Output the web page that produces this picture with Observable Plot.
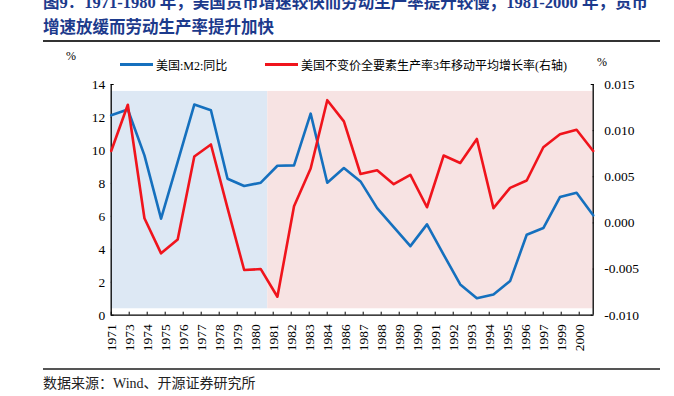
<!DOCTYPE html>
<html>
<head>
<meta charset="utf-8">
<script src="https://cdn.jsdelivr.net/npm/d3@7"></script>
<script src="https://cdn.jsdelivr.net/npm/@observablehq/plot@0.6"></script>
<style>
  html, body { margin: 0; padding: 0; background: #fff; }
  #wrap { position: relative; width: 674px; height: 396px; overflow: hidden;
          font-family: "Liberation Serif", "Noto Sans CJK SC", serif; color: #000; }
  #title { position: absolute; left: 43px; top: -9px; width: 630px; font-size: 16.5px; font-weight: bold;
           line-height: 24.5px; color: #1c3a8c; white-space: nowrap; }
  .hline { position: absolute; left: 43px; width: 617px; background: #333; }
  #chart { position: absolute; left: 0; top: 75px; }
  .lbl { position: absolute; font-size: 12px; white-space: nowrap; }
  .sw { position: absolute; height: 3px; }
  #caption { position: absolute; left: 43px; top: 372px; font-size: 14px; color: #222; }
</style>
</head>
<body>
<div id="wrap">
  <div id="title">图9：1971-1980 年，美国货币增速较快而劳动生产率提升较慢；1981-2000 年，货币<br>增速放缓而劳动生产率提升加快</div>
  <div class="hline" style="top:40px;height:1.5px;"></div>
  <div class="lbl" style="left:66px;top:49px;">%</div>
  <div class="lbl" style="left:597px;top:55px;">%</div>
  <div class="sw" style="left:120px;top:63px;width:33px;background:#1570be;"></div>
  <div class="lbl" style="left:156px;top:56px;">美国:M2:同比</div>
  <div class="sw" style="left:265px;top:63px;width:33px;background:#f0141c;"></div>
  <div class="lbl" style="left:301px;top:56px;">美国不变价全要素生产率3年移动平均增长率(右轴)</div>
  <div id="chart"></div>
  <div class="hline" style="top:368px;height:1.5px;background:#555;"></div>
  <div id="caption">数据来源：Wind、开源证券研究所</div>
</div>
<script>
// ---- data ----
const years = [1971, 1972, 1973, 1974, 1975, 1976, 1977, 1978, 1979, 1980,
               1981, 1982, 1983, 1984, 1985, 1986, 1987, 1988, 1989, 1990,
               1991, 1992, 1993, 1994, 1995, 1996, 1997, 1998, 1999, 2000];
const m2Yoy = [12.13, 12.48, 9.70, 5.86, 9.30, 12.78, 12.44, 8.28, 7.84, 8.04,
               9.07, 9.09, 12.23, 8.04, 8.93, 8.12, 6.50, 5.35, 4.19, 5.51,
               3.67, 1.87, 1.03, 1.26, 2.07, 4.88, 5.29, 7.17, 7.43, 6.06];
const tfpGrowth = [0.0078, 0.0128, 0.0005, -0.0033, -0.0018, 0.0072, 0.0085, 0.0016, -0.0051, -0.0050,
                   -0.0080, 0.0018, 0.0059, 0.0133, 0.0110, 0.0053, 0.0057, 0.0042, 0.0052, 0.0017,
                   0.0073, 0.0065, 0.0091, 0.0016, 0.0038, 0.0046, 0.0082, 0.0096, 0.0101, 0.0078];
const xTickLabels = ["1971","1973","1974","1975","1976","1977","1978","1979","1980","1981",
                     "1982","1983","1984","1986","1987","1988","1989","1990","1991","1992",
                     "1993","1994","1995","1996","1997","1999","2000"];
const leftTicks = [0, 2, 4, 6, 8, 10, 12, 14];
const rightTicks = [-0.010, -0.005, 0.000, 0.005, 0.010, 0.015];
const periodStarts = [1971, 1980.42];
const periodEnds = [1980.42, 2000];
const periodFills = ["#dde8f4", "#f7e3e3"];
const shadeLow = 0.39, shadeHigh = 13.58;

// right axis domain mapped onto the left scale
const r2l = d3.scaleLinear([-0.010, 0.015], [0, 14]);
const tickStep = 1.083; // label spacing in year units (category axis labels)

const m2Data = years.map((y, i) => ({year: y, v: m2Yoy[i]}));
const tfpData = years.map((y, i) => ({year: y, v: r2l(tfpGrowth[i])}));
const xTicks = xTickLabels.map((t, i) => ({pos: 1971 + i * tickStep, label: t}));
const periods = periodStarts.map((s, i) => ({x1: s, x2: periodEnds[i], fill: periodFills[i]}));

const font = "Liberation Serif, Noto Sans CJK SC, serif";

const chart = Plot.plot({
  width: 674,
  height: 290,
  marginTop: 9,
  marginBottom: 50.3,
  marginLeft: 110.7,
  marginRight: 81.3,
  style: {fontFamily: font, fontSize: "12px", color: "#000", background: "transparent"},
  x: {domain: [1971, 2000]},
  y: {domain: [0, 14]},
  marks: [
    Plot.axisY(leftTicks, {anchor: "left", tickSize: -3, tickPadding: 9, label: null, stroke: "#000", fontSize: 13.5}),
    Plot.axisY(rightTicks, {anchor: "right", y: d => r2l(d), text: d => d3.format(".3f")(d).replace("−", "-"),
                            tickSize: -3, tickPadding: 14, label: null, fontSize: 13.5}),
    Plot.rectY(periods, {x1: "x1", x2: "x2", y1: shadeLow, y2: shadeHigh, fill: d => d.fill}),
    Plot.axisX(xTicks, {x: "pos", text: () => null, tickSize: -3, label: null, anchor: "bottom"}),
    Plot.axisX(xTicks, {x: "pos", text: "label", tickSize: 0, tickPadding: 9, tickRotate: -90, label: null, anchor: "bottom", fontSize: 13.5}),
    Plot.ruleX([1971], {y1: 0, y2: 14, stroke: "#000", strokeWidth: 1.3}),
    Plot.ruleX([2000], {y1: r2l(-0.010), y2: r2l(0.015), stroke: "#000", strokeWidth: 1.3}),
    Plot.ruleY([0], {x1: 1971, x2: 2000, stroke: "#000", strokeWidth: 1.3}),
    Plot.line(m2Data, {x: "year", y: "v", stroke: "#1570be", strokeWidth: 2.6}),
    Plot.line(tfpData, {x: "year", y: "v", stroke: "#f0141c", strokeWidth: 2.6})
  ]
});
document.getElementById("chart").appendChild(chart);
</script>
</body>
</html>
